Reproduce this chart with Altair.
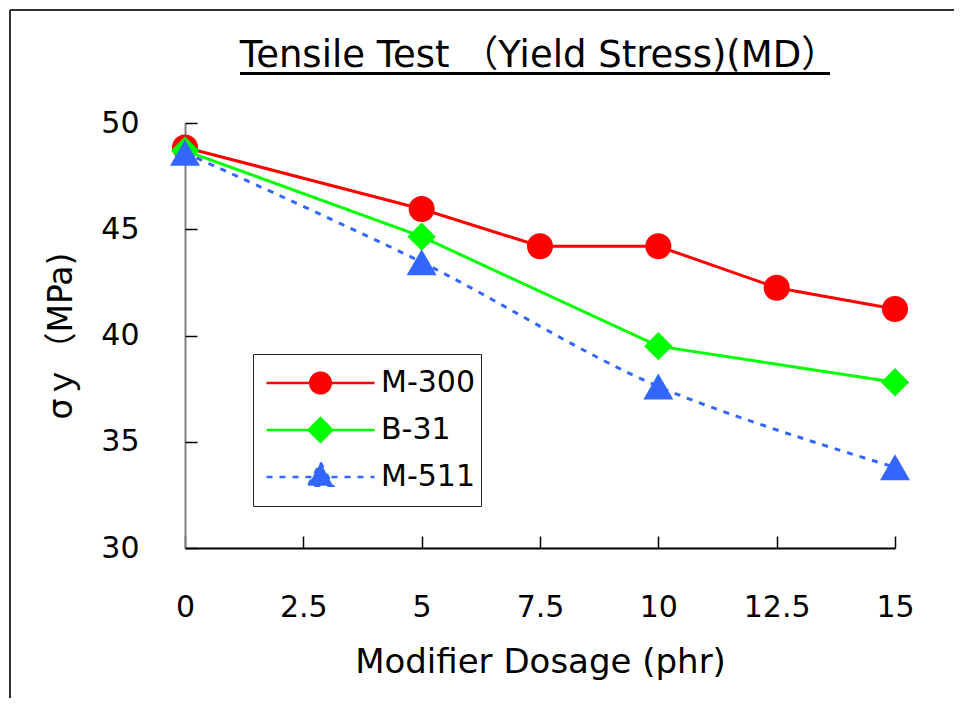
import altair as alt
import pandas as pd

# ---- data ----
series_names = ["M-300", "B-31", "M-511"]
dosage_m300 = [0, 5, 7.5, 10, 12.5, 15]
stress_m300 = [48.85, 45.95, 44.2, 44.2, 42.25, 41.25]
dosage_b31 = [0, 5, 10, 15]
stress_b31 = [48.7, 44.65, 39.5, 37.8]
dosage_m511 = [0, 5, 10, 15]
stress_m511 = [48.6, 43.45, 37.6, 33.8]
x_ticks = [0, 2.5, 5, 7.5, 10, 12.5, 15]
y_ticks = [30, 35, 40, 45, 50]

title_text = "Tensile Test （Yield Stress)(MD）"
x_title = "Modifier Dosage (phr)"
y_title = "σｙ（MPa)"

colors = ["#FF0000", "#00FF00", "#3366FF"]
FONT = "DejaVu Sans, Noto Sans CJK JP"
W, H = 710, 425

frames = []
for name, xs, ys in [("M-300", dosage_m300, stress_m300),
                     ("B-31", dosage_b31, stress_b31),
                     ("M-511", dosage_m511, stress_m511)]:
    frames.append(pd.DataFrame({"dosage": xs, "stress": ys, "series": name}))
df = pd.concat(frames, ignore_index=True)

xscale = alt.Scale(domain=[0, 15], nice=False, zero=False)
yscale = alt.Scale(domain=[30, 50], nice=False, zero=False)

x_main = alt.X("dosage:Q", scale=xscale, axis=alt.Axis(
    values=x_ticks, labelExpr="toString(datum.value)", labelFlush=False, labelOverlap=False,
    ticks=False, tickSize=0, grid=False,
    domainColor="black", domainWidth=2, labelFont=FONT, labelFontSize=30,
    labelColor="black", labelPadding=44, title=x_title, titleFont=FONT,
    titleFontSize=34, titleFontWeight="normal", titleColor="black", titlePadding=23))
y_main = alt.Y("stress:Q", scale=yscale, axis=alt.Axis(
    values=y_ticks, labelFlush=False, labelOverlap=False, ticks=False, tickSize=0, grid=False,
    domainColor="#808080", domainWidth=2, labelFont=FONT, labelFontSize=30,
    labelColor="black", labelPadding=46, title=y_title, titleFont=FONT,
    titleFontSize=33, titleFontWeight="normal", titleColor="black", titlePadding=22))

# inner ticks (axes moved onto the opposite side so ticks point into the plot)
x_ticks_enc = alt.X("dosage:Q", scale=xscale, axis=alt.Axis(
    orient="top", offset=-H, values=x_ticks, labels=False, domain=False,
    grid=False, tickSize=12, tickColor="black", tickWidth=1.5, title=None))
y_ticks_enc = alt.Y("stress:Q", scale=yscale, axis=alt.Axis(
    orient="right", offset=-W, values=y_ticks, labels=False, domain=False,
    grid=False, tickSize=12, tickColor="black", tickWidth=1.5, title=None))

layers = []
base = alt.Chart(df)
layers.append(base.mark_point(opacity=0).encode(x=x_main, y=y_main))
layers.append(base.mark_point(opacity=0).encode(x=x_ticks_enc, y=y_ticks_enc))

shapes = ["circle", "diamond", "triangle-up"]
sizes = [676, 800, 900]
for i, name in enumerate(series_names):
    sub = base.transform_filter(alt.datum.series == name)
    if name == "M-511":
        line = sub.mark_line(color=colors[i], strokeWidth=3, strokeDash=[6, 7],
                             interpolate="catmull-rom")
    else:
        line = sub.mark_line(color=colors[i], strokeWidth=3)
    pts = sub.mark_point(filled=True, shape=shapes[i], size=sizes[i],
                         color=colors[i], opacity=1)
    ax = alt.X("dosage:Q", scale=xscale, axis=None)
    ay = alt.Y("stress:Q", scale=yscale, axis=None)
    layers.append(line.encode(x=ax, y=ay))
    layers.append(pts.encode(x=ax, y=ay))

# legend (line + marker symbols)
legend_paths = [
    "M-1,0H1M0.19,0A0.19,0.19,0,1,1,-0.19,0A0.19,0.19,0,1,1,0.19,0Z",
    "M-1,0H1M0,-0.22L0.22,0L0,0.22L-0.22,0Z",
    "M-1,0H1M0,-0.27L0.23,0.16L-0.23,0.16Z",
]
leg_df = pd.DataFrame({"entry": series_names})
leg_layer = alt.Chart(leg_df).transform_filter("datum.entry == 'none'").mark_point(
    filled=True, opacity=1, size=11664, strokeWidth=2.5).encode(
    fill=alt.Fill("entry:N", scale=alt.Scale(domain=series_names, range=colors),
                  sort=series_names,
                  legend=alt.Legend(title=None, orient="none", legendX=68, legendY=231,
                                    labelFont=FONT, labelFontSize=30, labelColor="black",
                                    symbolSize=11664, symbolStrokeWidth=2.5,
                                    strokeColor="#222222", padding=6, symbolOffset=6,
                                    labelOffset=5, clipHeight=46, rowPadding=1,
                                    fillColor="white")),
    stroke=alt.Stroke("entry:N", scale=alt.Scale(domain=series_names, range=colors),
                      sort=series_names),
    shape=alt.Shape("entry:N", scale=alt.Scale(domain=series_names, range=legend_paths),
                    sort=series_names),
    strokeDash=alt.StrokeDash("entry:N", scale=alt.Scale(domain=series_names,
                                                         range=[[1, 0], [1, 0], [6, 7]]),
                              sort=series_names),
)
layers.append(leg_layer)

# decorations: title, its underline and outer frame
deco = alt.Chart(pd.DataFrame({"k": [0]}))
layers.append(deco.mark_text(font=FONT, fontSize=37, color="black", align="center",
                             baseline="alphabetic").encode(
    x=alt.value(354), y=alt.value(-56), text=alt.value(title_text)))
layers.append(deco.mark_rule(color="black", strokeWidth=3).encode(
    x=alt.value(55), x2=alt.value(645), y=alt.value(-49.5)))
layers.append(deco.mark_rule(color="#333333", strokeWidth=2).encode(
    x=alt.value(-175), x2=alt.value(800), y=alt.value(-113)))
layers.append(deco.mark_rule(color="#333333", strokeWidth=2).encode(
    x=alt.value(-175), y=alt.value(-113), y2=alt.value(600)))

chart = alt.layer(*layers).resolve_axis(x="independent", y="independent").properties(
    width=W, height=H,
    background="white",
    autosize=alt.AutoSizeParams(type="none"),
    padding={"left": 177, "top": 115, "right": 59, "bottom": 150},
).configure_view(strokeWidth=0, stroke="transparent")

chart.save("out.html", embed_options={"renderer": "svg", "actions": False})
